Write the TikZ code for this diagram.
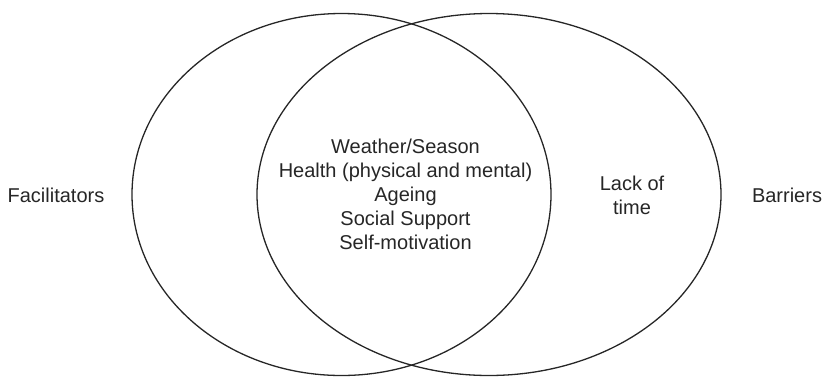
\documentclass[tikz,border=0pt]{standalone}
\usepackage{fontspec}
\setmainfont{Liberation Sans}
\begin{document}
\begin{tikzpicture}[x=1pt,y=-1pt,
  circ/.style={draw=black!85,line width=1.3pt},
  lbl/.style={font=\fontsize{20}{24}\selectfont,text=black!85,align=center,inner sep=0pt}]
\useasboundingbox (0,0) rectangle (825,376);
\draw[circ] (341.5,194.5) ellipse [x radius=209.5, y radius=181];
\draw[circ] (489,194.5) ellipse [x radius=232, y radius=181];
\node[lbl] (fac) at (56,195) {Facilitators};
\node[lbl] (bar) at (787,195) {Barriers};
\node[lbl] (mid) at (405.5,194) {Weather/Season\\Health (physical and mental)\\Ageing\\Social Support\\Self-motivation};
\node[lbl] (lack) at (632,195) {Lack of\\time};
\end{tikzpicture}
\end{document}
